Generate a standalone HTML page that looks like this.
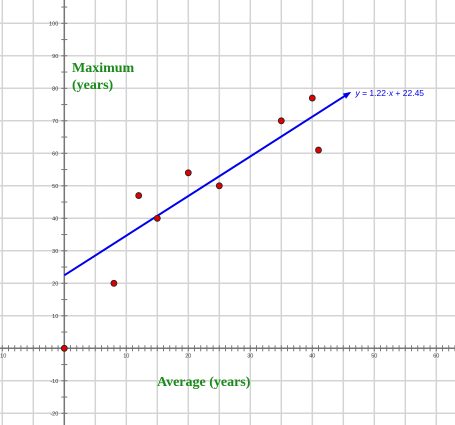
<!DOCTYPE html>
<html><head><style>
body{margin:0;background:#fff;}
svg{display:block;font-family:"Liberation Sans",sans-serif;}
</style></head><body>
<svg id="chart" width="455" height="425" viewBox="0 0 455 425">
<g id="grid"></g>
<g id="axes"></g>
<g id="marks"></g>
<text x="72" y="72" fill="#1a8a1a" font-family="Liberation Serif,serif" font-weight="bold" font-size="14">Maximum</text>
<text x="72" y="89" fill="#1a8a1a" font-family="Liberation Serif,serif" font-weight="bold" font-size="14">(years)</text>
<text x="157" y="386" fill="#1a8a1a" font-family="Liberation Serif,serif" font-weight="bold" font-size="14">Average (years)</text>
</svg>
<script>
const xs=[0,8,12,15,20,25,35,40,41];
const ys=[0,20,47,40,54,50,70,77,61];
const slope=1.22, intercept=22.45, lineEnd=46;
const xTicks=[-10,10,20,30,40,50,60];
const yTicks=[-20,-10,10,20,30,40,50,60,70,80,90,100];
const ox=64.3, oy=348.3, sx=6.2, sy=3.25;
const X=v=>ox+v*sx, Y=v=>oy-v*sy;
const NS="http://www.w3.org/2000/svg";
function mk(p,t,a){const e=document.createElementNS(NS,t);for(const k in a)e.setAttribute(k,a[k]);p.appendChild(e);return e;}
const g=document.getElementById('grid'),ax=document.getElementById('axes'),m=document.getElementById('marks');
for(let v=-10;v<=65;v+=5){const l=mk(g,'line',{x1:X(v),x2:X(v),y1:0,y2:425,stroke:'#d4d4d4','stroke-width':1.5});

}
for(let v=-30;v<=110;v+=10){const l=mk(g,'line',{x1:0,x2:455,y1:Y(v),y2:Y(v),stroke:'#d4d4d4','stroke-width':1.5});

}
mk(ax,'line',{x1:0,x2:455,y1:oy,y2:oy,stroke:'#777','stroke-width':1.5});
mk(ax,'line',{x1:ox,x2:ox,y1:0,y2:425,stroke:'#777','stroke-width':1.5});
for(let v=-10;v<=63;v++){mk(ax,'line',{x1:X(v),x2:X(v),y1:oy-3,y2:oy+3,stroke:'#777','stroke-width':1});}
for(let v=-25;v<=105;v+=5){mk(ax,'line',{x1:ox-3,x2:ox+3,y1:Y(v),y2:Y(v),stroke:'#777','stroke-width':1});}
xTicks.forEach(v=>{const t=mk(ax,'text',{x:X(v),y:oy+9,'font-size':5.5,'text-anchor':'middle',fill:'#333'});t.textContent=v;

});
yTicks.forEach(v=>{const t=mk(ax,'text',{x:ox-6,y:Y(v)+2,'font-size':5.5,'text-anchor':'end',fill:'#333'});t.textContent=v;

});
const x2=X(lineEnd),y2=Y(slope*lineEnd+intercept);
const rl=mk(m,'line',{x1:X(0),y1:Y(intercept),x2:x2,y2:y2,stroke:'#0000ee','stroke-width':2});


const ang=Math.atan2(y2-Y(intercept),x2-X(0));
const p=[[x2+2*Math.cos(ang),y2+2*Math.sin(ang)],[x2-6*Math.cos(ang)+3*Math.sin(ang),y2-6*Math.sin(ang)-3*Math.cos(ang)],[x2-6*Math.cos(ang)-3*Math.sin(ang),y2-6*Math.sin(ang)+3*Math.cos(ang)]];
mk(m,'polygon',{points:p.map(q=>q.join(',')).join(' '),fill:'#0000ee'});
const lt=mk(m,'text',{x:x2+6,y:y2+3,'font-size':8.5,fill:'#0000ee'});
lt.innerHTML='<tspan font-style="italic">y</tspan> = '+slope+'·<tspan font-style="italic">x</tspan> + '+intercept;


xs.forEach((x,i)=>{const c=mk(m,'circle',{cx:X(x),cy:Y(ys[i]),r:3,fill:'#e00000',stroke:'#222','stroke-width':0.8});

});
</script>
</body></html>
